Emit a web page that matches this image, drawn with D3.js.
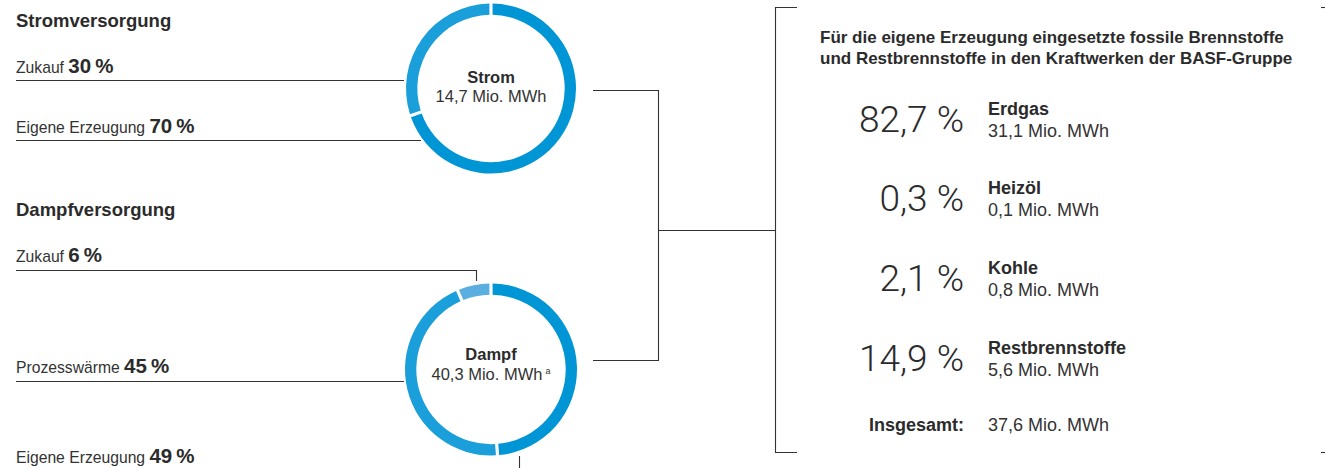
<!DOCTYPE html>
<html><head><meta charset="utf-8">
<script src="https://cdn.jsdelivr.net/npm/d3@7"></script>
<style>
html,body{margin:0;padding:0;background:#fff;}
svg{display:block;font-family:"Liberation Sans",Arial,Helvetica,sans-serif;}
</style></head>
<body><svg id="c" width="1325" height="468"></svg>
<script>
// ---- data ----
const stromLabels = ["Eigene Erzeugung", "Zukauf"];
const stromValues = [70, 30];
const stromTotal = 14.7;
const dampfLabels = ["Eigene Erzeugung", "Prozesswärme", "Zukauf"];
const dampfValues = [49, 45, 6];
const dampfTotal = 40.3;
const fuelLabels = ["Erdgas", "Heizöl", "Kohle", "Restbrennstoffe"];
const fuelShares = [82.7, 0.3, 2.1, 14.9];
const fuelMWh = [31.1, 0.1, 0.8, 5.6];
const fuelTotal = 37.6;

const de = d3.formatLocale({decimal: ",", thousands: ".", grouping: [3], currency: ["", " €"]});
const f1 = de.format(".1f");
const f0 = de.format(".0f");

const svg = d3.select("#c");
const ink = "#2b2b2b";
const lineCol = "#333";

const colors = {
  "Eigene Erzeugung": "#0096d6",
  "Prozesswärme": "#1a9fda",
  "ZukaufStrom": "#1a9fda",
  "ZukaufDampf": "#5aaee0"
};

function donut(cx, cy, rOuter, labels, values, zukaufKey) {
  const data = labels.map((l, i) => ({label: l, value: values[i]}));
  const pie = d3.pie().sort(null).value(d => d.value).padAngle(0.028);
  const arc = d3.arc().innerRadius(rOuter - 11.3).outerRadius(rOuter);
  const g = svg.append("g").attr("transform", `translate(${cx},${cy})`);
  g.selectAll("path").data(pie(data)).join("path")
    .attr("d", arc)
    .attr("fill", d => d.data.label === "Zukauf" ? colors[zukaufKey] : colors[d.data.label]);
  return g;
}

// Strom donut
const gS = donut(491, 88.5, 85, stromLabels, stromValues, "ZukaufStrom");
gS.append("text").attr("text-anchor", "middle").attr("y", -5.5)
  .attr("font-size", 16.5).attr("font-weight", "bold").attr("fill", ink).text("Strom");
gS.append("text").attr("text-anchor", "middle").attr("y", 13.5)
  .attr("font-size", 16.5).attr("fill", "#333").text(f1(stromTotal) + " Mio. MWh");

// Dampf donut
const gD = donut(491, 369.5, 86, dampfLabels, dampfValues, "ZukaufDampf");
gD.append("text").attr("text-anchor", "middle").attr("y", -9.5)
  .attr("font-size", 16.5).attr("font-weight", "bold").attr("fill", ink).text("Dampf");
const dt = gD.append("text").attr("text-anchor", "middle").attr("y", 10.5)
  .attr("font-size", 16.5).attr("fill", "#333");
dt.append("tspan").text(f1(dampfTotal) + " Mio. MWh");
dt.append("tspan").attr("font-size", 9).attr("dx", 3).attr("dy", -6).text("a");

// left headings & labels
function heading(y, txt) {
  svg.append("text").attr("x", 16).attr("y", y).attr("font-size", 18.5)
    .attr("font-weight", "bold").attr("fill", ink).text(txt);
}
function label(y, name, val) {
  const t = svg.append("text").attr("x", 16).attr("y", y).attr("fill", ink);
  t.append("tspan").attr("font-size", 15.7).attr("fill", "#333").text(name + " ");
  t.append("tspan").attr("font-size", 20.5).attr("font-weight", "bold").text(f0(val) + "\u2009%");
}
heading(27, "Stromversorgung");
label(73, "Zukauf", stromValues[1]);
label(133, "Eigene Erzeugung", stromValues[0]);
heading(216, "Dampfversorgung");
label(262, "Zukauf", dampfValues[2]);
label(373, "Prozesswärme", dampfValues[1]);
label(463, "Eigene Erzeugung", dampfValues[0]);

// leader lines
const line = d3.line();
const paths = [
  [[16, 80.5], [404, 80.5]],
  [[16, 140.5], [421, 140.5]],
  [[16, 270.5], [476.5, 270.5], [476.5, 281]],
  [[16, 381.5], [404, 381.5]],
  [[519.5, 456], [519.5, 468]],
  // connector
  [[593, 90.5], [658.5, 90.5], [658.5, 360.5], [593, 360.5]],
  [[658.5, 230.5], [775.5, 230.5]],
  // bracket
  [[797, 7.5], [775.5, 7.5], [775.5, 452.5], [797, 452.5]],
  [[1321, 7.5], [1325, 7.5]],
  [[1321, 452.5], [1325, 452.5]]
];
svg.selectAll("path.lead").data(paths).join("path").attr("class", "lead")
  .attr("d", d => line(d)).attr("fill", "none").attr("stroke", lineCol).attr("stroke-width", 1.1);

// right panel
svg.append("text").attr("x", 820).attr("y", 43).attr("font-size", 17).attr("font-weight", "bold")
  .attr("fill", ink).text("Für die eigene Erzeugung eingesetzte fossile Brennstoffe");
svg.append("text").attr("x", 820).attr("y", 64).attr("font-size", 17).attr("font-weight", "bold")
  .attr("fill", ink).text("und Restbrennstoffe in den Kraftwerken der BASF-Gruppe");

const rowY = d3.scalePoint().domain(fuelLabels).range([131.5, 370.5]);
const rows = svg.selectAll("g.row").data(fuelLabels).join("g").attr("class", "row")
  .attr("transform", d => `translate(0,${rowY(d)})`);
rows.append("text").attr("x", 964).attr("text-anchor", "end").attr("font-size", 37)
  .attr("font-family", "Roboto, 'Liberation Sans', sans-serif").attr("font-weight", 300)
  .attr("fill", ink).text((d, i) => f1(fuelShares[i]) + " %");
rows.append("text").attr("x", 988).attr("y", -17).attr("font-size", 18).attr("font-weight", "bold")
  .attr("fill", ink).text(d => d);
rows.append("text").attr("x", 988).attr("y", 5).attr("font-size", 18)
  .attr("fill", "#333").text((d, i) => f1(fuelMWh[i]) + " Mio. MWh");

svg.append("text").attr("x", 964).attr("y", 431).attr("text-anchor", "end").attr("font-size", 18)
  .attr("font-weight", "bold").attr("fill", ink).text("Insgesamt:");
svg.append("text").attr("x", 988).attr("y", 431).attr("font-size", 18)
  .attr("fill", "#333").text(f1(fuelTotal) + " Mio. MWh");
</script></body></html>
